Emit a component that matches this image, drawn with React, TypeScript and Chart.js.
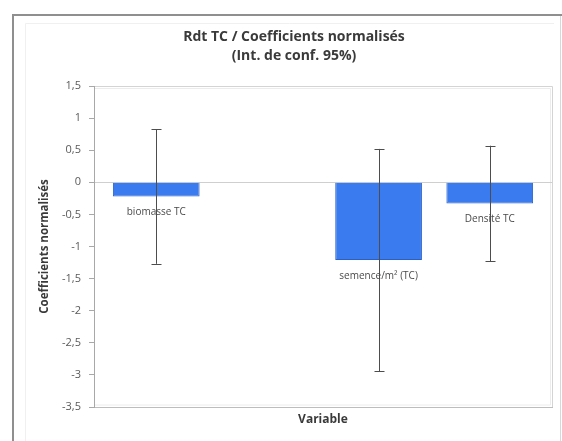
import React, { useEffect, useRef } from "react";
import { Chart, registerables } from "chart.js";

Chart.register(...registerables);

// Variables (one slot is left empty on the category axis)
const categories = ["biomasse TC", "", "semence/m² (TC)", "Densité TC"];
// Normalised coefficients
const coefficients: (number | null)[] = [-0.22, null, -1.21, -0.33];
// Half-width of the 95% confidence interval
const ciHalfWidth: (number | null)[] = [1.05, null, 1.73, 0.9];

const titleLines = ["Rdt TC / Coefficients normalisés", "(Int. de conf. 95%)"];
const yAxisTitle = "Coefficients normalisés";
const xAxisTitle = "Variable";
const yMin = -3.5;
const yMax = 1.5;
const yStep = 0.5;

const FONT = "'Open Sans', Lato, sans-serif";

const points = categories
  .map((label, i) => ({ x: i, y: coefficients[i], err: ciHalfWidth[i], label }))
  .filter((p) => p.y !== null) as { x: number; y: number; err: number; label: string }[];

const decorations = {
  id: "decorations",
  beforeDraw(chart: any) {
    const { ctx, width, height, chartArea } = chart;
    ctx.save();
    ctx.fillStyle = "#ffffff";
    ctx.fillRect(0, 0, width, height);

    // outer chart frame
    ctx.strokeStyle = "#8f8f8f";
    ctx.lineWidth = 2;
    ctx.beginPath();
    ctx.moveTo(13, height);
    ctx.lineTo(13, 15);
    ctx.lineTo(width, 15);
    ctx.stroke();
    ctx.strokeStyle = "#d8d8d8";
    ctx.lineWidth = 1;
    ctx.beginPath();
    ctx.moveTo(width - 1.5, 16);
    ctx.lineTo(width - 1.5, height);
    ctx.stroke();
    ctx.strokeStyle = "#f0f0f0";
    ctx.beginPath();
    ctx.moveTo(25.5, height);
    ctx.lineTo(25.5, 23.5);
    ctx.lineTo(width - 8, 23.5);
    ctx.stroke();

    // plot area frame (top and right)
    ctx.strokeStyle = "#d4d4d4";
    ctx.beginPath();
    ctx.moveTo(chartArea.left, chartArea.top + 0.5);
    ctx.lineTo(chartArea.right + 0.5, chartArea.top + 0.5);
    ctx.lineTo(chartArea.right + 0.5, chartArea.bottom);
    ctx.stroke();
    ctx.strokeStyle = "#ececec";
    ctx.beginPath();
    ctx.moveTo(chartArea.left, chartArea.top + 2.5);
    ctx.lineTo(chartArea.right - 1.5, chartArea.top + 2.5);
    ctx.lineTo(chartArea.right - 1.5, chartArea.bottom - 2);
    ctx.lineTo(chartArea.left, chartArea.bottom - 2);
    ctx.stroke();

    // titles
    ctx.fillStyle = "#3a3a3a";
    ctx.textAlign = "center";
    ctx.textBaseline = "middle";
    ctx.font = `bold 14px ${FONT}`;
    ctx.fillText(titleLines[0], 294, 37);
    ctx.fillText(titleLines[1], 294, 56);

    ctx.font = `bold 12px ${FONT}`;
    ctx.fillText(xAxisTitle, (chartArea.left + chartArea.right) / 2, 420);

    ctx.font = `bold 11.5px ${FONT}`;
    ctx.translate(45, (chartArea.top + chartArea.bottom) / 2);
    ctx.rotate(-Math.PI / 2);
    ctx.fillText(yAxisTitle, 0, 0);
    ctx.restore();
  },
  afterDatasetsDraw(chart: any) {
    const { ctx } = chart;
    const yScale = chart.scales.y;
    const meta = chart.getDatasetMeta(0);
    ctx.save();

    // category names under the bar ends
    ctx.font = `10px ${FONT}`;
    ctx.fillStyle = "#4a4a4a";
    ctx.textAlign = "center";
    ctx.textBaseline = "middle";
    meta.data.forEach((bar: any, i: number) => {
      const p = points[i];
      const end = p.y < 0 ? bar.y + 16 : bar.y - 16;
      ctx.fillText(p.label, bar.x, end);
    });

    // confidence-interval whiskers
    ctx.strokeStyle = "#4d4d4d";
    ctx.lineWidth = 1;
    meta.data.forEach((bar: any, i: number) => {
      const p = points[i];
      const top = yScale.getPixelForValue(p.y + p.err);
      const bottom = yScale.getPixelForValue(p.y - p.err);
      const x = Math.round(bar.x) + 0.5;
      ctx.beginPath();
      ctx.moveTo(x, top);
      ctx.lineTo(x, bottom);
      ctx.moveTo(x - 5, Math.round(top) + 0.5);
      ctx.lineTo(x + 5, Math.round(top) + 0.5);
      ctx.moveTo(x - 5, Math.round(bottom) + 0.5);
      ctx.lineTo(x + 5, Math.round(bottom) + 0.5);
      ctx.stroke();
    });
    ctx.restore();
  },
};

export default function App() {
  const canvasRef = useRef<HTMLCanvasElement | null>(null);

  useEffect(() => {
    if (!canvasRef.current) return;
    const chart = new Chart(canvasRef.current, {
      type: "bar",
      data: {
        datasets: [
          {
            data: points.map((p) => ({ x: p.x, y: p.y })),
            backgroundColor: "#3a7bef",
            borderColor: "#2b60c4",
            borderWidth: 1,
            categoryPercentage: 1,
            barPercentage: 0.78,
          },
        ],
      },
      options: {
        animation: false,
        responsive: false,
        devicePixelRatio: 1,
        layout: { padding: { top: 86, right: 10, left: 0, bottom: 0 } },
        plugins: {
          legend: { display: false },
          title: { display: false },
          tooltip: { enabled: false },
        },
        scales: {
          x: {
            type: "linear",
            offset: false,
            min: -0.56,
            max: 3.56,
            ticks: { display: false },
            afterBuildTicks: (scale: any) => {
              scale.ticks = categories.map((_, i) => ({ value: i }));
            },
            grid: { display: false, offset: false },
            border: { display: true, color: "#bdbdbd" },
            afterFit: (scale: any) => {
              scale.height = 34;
            },
          },
          y: {
            type: "linear",
            min: yMin,
            max: yMax,
            ticks: {
              stepSize: yStep,
              padding: 8,
              color: "#5a5a5a",
              font: { family: FONT, size: 11 },
              callback: (v: any) => String(Number(v)).replace(".", ","),
            },
            grid: {
              color: (c: any) => (c.tick && c.tick.value === 0 ? "#cfcfcf" : "rgba(0,0,0,0)"),
              tickColor: "#a8a8a8",
              tickLength: 5,
            },
            border: { display: true, color: "#a8a8a8" },
            afterFit: (scale: any) => {
              scale.width = 94;
            },
          },
        },
      },
      plugins: [decorations],
    } as any);
    return () => chart.destroy();
  }, []);

  return (
    <div style={{ position: "absolute", left: 0, top: 0, width: 562, height: 441 }}>
      <canvas ref={canvasRef} width={562} height={441} />
    </div>
  );
}
